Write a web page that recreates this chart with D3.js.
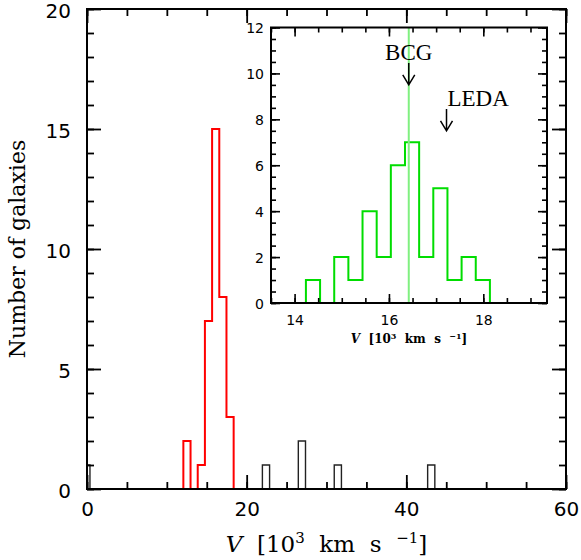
<!DOCTYPE html>
<html>
<head>
<meta charset="utf-8">
<script src="https://cdn.jsdelivr.net/npm/d3@7"></script>
<style>
  html, body { margin: 0; padding: 0; background: #fff; }
  svg { display: block; }
  text { white-space: pre; }
</style>
</head>
<body>
<svg id="chart" width="581" height="560"></svg>
<script>
// Velocity histogram of galaxies along the line of sight (V in 10^3 km/s)
const mainBinWidth = 0.9;
// cluster members (red)
const memberBinStart = [12.07, 12.97, 13.87, 14.77, 15.67, 16.57, 17.47];
const memberCounts   = [2, 0, 1, 7, 15, 8, 3];
// foreground / background galaxies (black)
const fieldBinStart  = [-0.53, 21.97, 26.47, 30.97, 42.67];
const fieldCounts    = [1, 1, 2, 1, 1];

// zoom on the cluster (green)
const insetBinWidth = 0.3;
const insetBinStart = [14.24, 14.54, 14.84, 15.14, 15.44, 15.74, 16.04, 16.34, 16.64, 16.94, 17.24, 17.54, 17.84];
const insetCounts   = [1, 0, 2, 1, 4, 2, 6, 7, 2, 5, 1, 2, 1];

const bcgVelocity  = 16.42;
const ledaVelocity = 17.22;

const mainXTicks = [0, 20, 40, 60];
const mainYTicks = [0, 5, 10, 15, 20];
const insetXTicks = [14, 16, 18];
const insetYTicks = [0, 2, 4, 6, 8, 10, 12];

const svg = d3.select("#chart");

// ---------- main panel ----------
const M = { left: 87, right: 566, top: 9, bottom: 489 };
const x = d3.scaleLinear().domain([0, 60]).range([M.left, M.right]);
const y = d3.scaleLinear().domain([0, 20]).range([M.bottom, M.top]);

svg.append("clipPath").attr("id", "mainClip")
  .append("rect").attr("x", M.left).attr("y", M.top)
  .attr("width", M.right - M.left).attr("height", M.bottom - M.top);

function stepPoints(starts, counts, w) {
  const pts = [[starts[0], 0]];
  starts.forEach((s, i) => { pts.push([s, counts[i]], [s + w, counts[i]]); });
  pts.push([starts[starts.length - 1] + w, 0]);
  return pts;
}

function drawAxes(g, xs, ys, o) {
  const [x0, x1] = xs.range();
  const [y0, y1] = ys.range();
  const axes = g.append("g");
  const add = (gen, tf) => {
    const a = axes.append("g").attr("transform", tf).call(gen);
    a.select(".domain").remove();
    a.selectAll(".tick line").attr("stroke", "#000").attr("stroke-width", o.tickWidth);
    return a;
  };
  // minor ticks on all four sides
  add(d3.axisBottom(xs).tickValues(o.xMinor).tickSize(-o.minorLen).tickFormat(""), `translate(0,${y0})`);
  add(d3.axisTop(xs).tickValues(o.xMinor).tickSize(-o.minorLen).tickFormat(""), `translate(0,${y1})`);
  add(d3.axisLeft(ys).tickValues(o.yMinor).tickSize(-o.minorLen).tickFormat(""), `translate(${x0},0)`);
  add(d3.axisRight(ys).tickValues(o.yMinor).tickSize(-o.minorLen).tickFormat(""), `translate(${x1},0)`);
  // major ticks, labelled on bottom and left
  const bx = add(d3.axisBottom(xs).tickValues(o.xMajor).tickSize(-o.majorLen).tickPadding(o.xPad).tickFormat(d3.format("d")), `translate(0,${y0})`);
  add(d3.axisTop(xs).tickValues(o.xMajor).tickSize(-o.majorLen).tickFormat(""), `translate(0,${y1})`);
  const ly = add(d3.axisLeft(ys).tickValues(o.yMajor).tickSize(-o.majorLen).tickPadding(o.yPad).tickFormat(d3.format("d")), `translate(${x0},0)`);
  add(d3.axisRight(ys).tickValues(o.yMajor).tickSize(-o.majorLen).tickFormat(""), `translate(${x1},0)`);
  [bx, ly].forEach(a => a.selectAll("text")
    .attr("font-family", "DejaVu Sans").attr("font-size", o.fontSize).attr("fill", "#000"));
  ly.selectAll("text").attr("dy", o.yDy);
  // frame
  g.append("rect").attr("x", x0).attr("y", y1).attr("width", x1 - x0).attr("height", y0 - y1)
    .attr("fill", "none").attr("stroke", "#000").attr("stroke-width", o.frameWidth);
}

const mainG = svg.append("g");
const histG = mainG.append("g").attr("clip-path", "url(#mainClip)");
const line = d3.line().x(d => x(d[0])).y(d => y(d[1]));

fieldBinStart.forEach((s, i) => {
  histG.append("path")
    .attr("d", line(stepPoints([s], [fieldCounts[i]], mainBinWidth)))
    .attr("fill", "none").attr("stroke", "#222").attr("stroke-width", 1.4);
});
histG.append("path")
  .attr("d", line(stepPoints(memberBinStart, memberCounts, mainBinWidth)))
  .attr("fill", "none").attr("stroke", "#ff0000").attr("stroke-width", 2);

drawAxes(mainG, x, y, {
  xMinor: d3.range(0, 61, 5), xMajor: mainXTicks,
  yMinor: d3.range(0, 21, 1), yMajor: mainYTicks,
  minorLen: 7, majorLen: 14, tickWidth: 1.8, frameWidth: 2,
  xPad: 13, yPad: 16, fontSize: 20, yDy: "0.42em"
});

// axis titles
const xt = svg.append("text")
  .attr("x", (M.left + M.right) / 2).attr("y", 552)
  .attr("text-anchor", "middle")
  .attr("font-family", "DejaVu Serif").attr("font-size", 23).attr("fill", "#000");
xt.append("tspan").attr("font-style", "italic").text("V");
xt.append("tspan").text("  [10");
xt.append("tspan").attr("font-size", 15).attr("dy", -9).text("3");
xt.append("tspan").attr("dy", 9).text("  km  s  ");
xt.append("tspan").attr("font-size", 15).attr("dy", -9).text("−1");
xt.append("tspan").attr("dy", 9).text("]");

svg.append("text")
  .attr("transform", `translate(25,${(M.top + M.bottom) / 2}) rotate(-90)`)
  .attr("text-anchor", "middle")
  .attr("font-family", "DejaVu Serif").attr("font-size", 22).attr("fill", "#000")
  .text("Number of galaxies");

// ---------- inset panel ----------
const I = { left: 271, right: 547, top: 27.5, bottom: 303 };
const xi = d3.scaleLinear().domain([13.5, 19.35]).range([I.left, I.right]);
const yi = d3.scaleLinear().domain([0, 12]).range([I.bottom, I.top]);

const insetG = svg.append("g");
insetG.append("rect").attr("x", I.left).attr("y", I.top)
  .attr("width", I.right - I.left).attr("height", I.bottom - I.top).attr("fill", "#fff");

const linei = d3.line().x(d => xi(d[0])).y(d => yi(d[1]));
insetG.append("path")
  .attr("d", linei(stepPoints(insetBinStart, insetCounts, insetBinWidth)))
  .attr("fill", "none").attr("stroke", "#00dd00").attr("stroke-width", 2);

// BCG velocity
insetG.append("line")
  .attr("x1", xi(bcgVelocity)).attr("x2", xi(bcgVelocity))
  .attr("y1", yi(0)).attr("y2", yi(12))
  .attr("stroke", "#80f080").attr("stroke-width", 2);

drawAxes(insetG, xi, yi, {
  xMinor: d3.range(13.5, 19.36, 0.5), xMajor: insetXTicks,
  yMinor: d3.range(0, 12.01, 0.5), yMajor: insetYTicks,
  minorLen: 5, majorLen: 9, tickWidth: 1.6, frameWidth: 2,
  xPad: 12, yPad: 7, fontSize: 14, yDy: "0.36em"
});

// annotations with arrows
function arrow(v, tip, len) {
  const ax = xi(v), ty = yi(tip), top = yi(tip + len);
  insetG.append("path")
    .attr("d", `M${ax},${top}V${ty}M${ax - 6},${ty - 10}L${ax},${ty}L${ax + 6},${ty - 10}`)
    .attr("fill", "none").attr("stroke", "#000").attr("stroke-width", 1.5);
}
arrow(bcgVelocity, 9.5, 0.95);
arrow(ledaVelocity, 7.5, 0.95);

insetG.append("text")
  .attr("x", xi(bcgVelocity)).attr("y", yi(10.6))
  .attr("text-anchor", "middle")
  .attr("font-family", "Liberation Serif").attr("font-size", 23).attr("fill", "#000")
  .text("BCG");
insetG.append("text")
  .attr("x", xi(ledaVelocity) + 1).attr("y", yi(8.6))
  .attr("font-family", "Liberation Serif").attr("font-size", 23).attr("fill", "#000")
  .text("LEDA");

const it = insetG.append("text")
  .attr("x", (I.left + I.right) / 2).attr("y", 343)
  .attr("text-anchor", "middle")
  .attr("font-family", "DejaVu Serif").attr("font-weight", "bold")
  .attr("font-size", 12).attr("fill", "#000");
it.append("tspan").attr("font-style", "italic").text("V");
it.append("tspan").text("  [10");
it.append("tspan").attr("font-size", 8).attr("dy", -4).text("3");
it.append("tspan").attr("dy", 4).text("  km  s  ");
it.append("tspan").attr("font-size", 8).attr("dy", -4).text("−1");
it.append("tspan").attr("dy", 4).text("]");
</script>
</body>
</html>
